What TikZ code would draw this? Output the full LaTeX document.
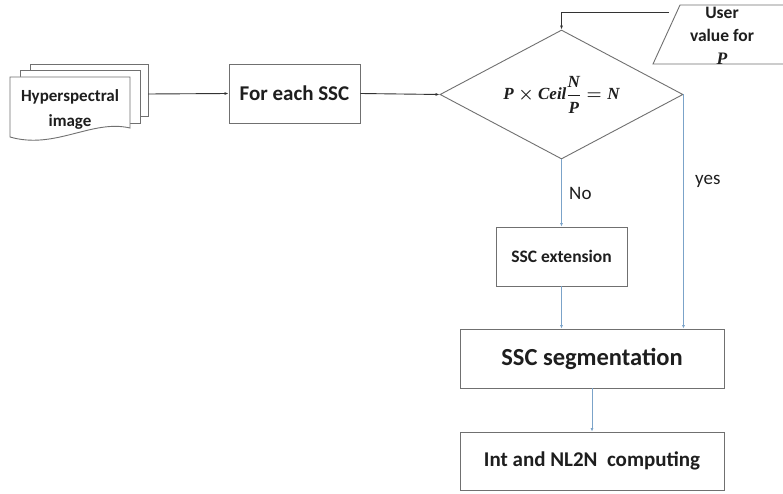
\documentclass[tikz,border=0pt]{standalone}
\usepackage{fontspec}
\setmainfont{Carlito}
\newfontfamily\formfont{Liberation Serif}
\usepackage{amsmath}
\usepackage{amssymb}
\usetikzlibrary{shapes.geometric,arrows.meta}
\definecolor{boxgray}{HTML}{707070}
\definecolor{linkblue}{HTML}{7BA3C9}
\definecolor{txt}{HTML}{1E1E1E}

\begin{document}
\begin{tikzpicture}[x=1pt, y=-1pt,
  box/.style={draw=boxgray, line width=0.9pt, fill=white, inner sep=0pt, text=txt},
  flow/.style={draw=black!80, line width=0.9pt, -{Latex[length=4pt,width=3pt]}},
  bflow/.style={draw=linkblue, line width=0.8pt, -{Latex[length=3.5pt,width=3pt]}},
  lbl/.style={text=txt, font=\fontsize{19}{22}\selectfont}]
  % Canvas
  \fill[white] (0,0) rectangle (783,494);
  \useasboundingbox (0,0) rectangle (783,494);
  % Image stack
  \draw[boxgray, line width=0.9pt, fill=white] (30,64) rectangle (148,116);
  \draw[boxgray, line width=0.9pt, fill=white] (20,70) rectangle (140,123);
  \draw[boxgray, line width=0.9pt, fill=white] (10,77) -- (130,77) -- (130,128)
    .. controls (92,119) and (55,150) .. (10,137) -- cycle;
  \node[text=txt, font=\fontsize{17}{25}\selectfont\bfseries, align=center] (img) at (70,109) {Hyperspectral\\image};
  \coordinate (imgout) at (148,94);
  % Steps
  \node[box, minimum width=131pt, minimum height=59pt, font=\fontsize{21}{25}\selectfont\bfseries] (each) at (294.5,93.5) {For each SSC};
  \node[box, diamond, minimum width=243pt, minimum height=129pt, aspect=1.88, font=\fontsize{17}{20}\selectfont\boldmath\formfont\bfseries\itshape] (cond) at (561.5,94.5) {$\text{P}\times\text{Ceil}\dfrac{\text{N}}{\text{P}}=\text{N}$};
  % User input
  \draw[boxgray, line width=0.9pt, fill=white] (653,64) -- (680,5) -- (820,5) -- (793,64) -- cycle;
  \node[text=txt, align=center, font=\fontsize{17.5}{23}\selectfont\bfseries] (userval) at (722,36) {User\\value for\\{\formfont\itshape P}};
  \coordinate (userout) at (669,12);
  \node[box, minimum width=131pt, minimum height=59pt, font=\fontsize{17.5}{21}\selectfont\bfseries] (ext) at (561.5,256.5) {SSC extension};
  \node[box, minimum width=264pt, minimum height=59pt, font=\fontsize{24.5}{28}\selectfont\bfseries] (seg) at (592,358.5) {SSC segmentation};
  \node[box, minimum width=264pt, minimum height=58pt, font=\fontsize{21}{25}\selectfont\bfseries] (intn) at (592,461) {Int and NL2N~ computing};
  % Links
  \draw[flow] (imgout) -- (each.west);
  \draw[flow] (each.east) -- (cond.west);
  \draw[flow] (userout) -| (cond.north);
  \draw[bflow] (cond.south) -- (ext.north) node[lbl, midway, right, xshift=4pt] {No};
  \draw[bflow] (cond.east) -- (cond.east |- seg.north) node[lbl, pos=0.37, right, xshift=8pt] {yes};
  \draw[bflow] (ext.south) -- (ext.south |- seg.north);
  \draw[bflow] (seg.south) -- (intn.north);
\end{tikzpicture}
\end{document}
